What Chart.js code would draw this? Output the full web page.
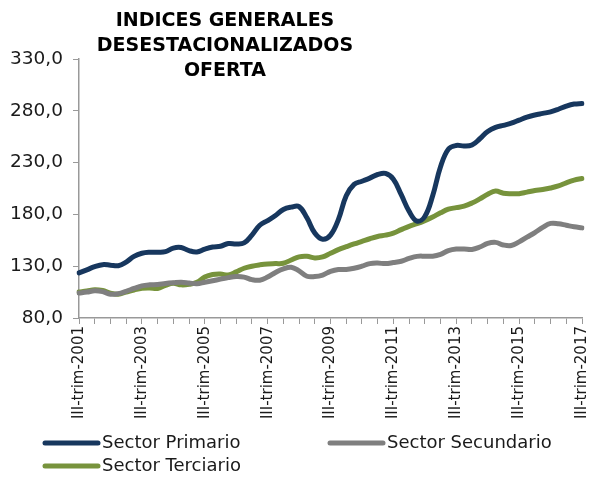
<!DOCTYPE html>
<html>
<head>
<meta charset="utf-8">
<script src="https://cdn.jsdelivr.net/npm/chart.js@4.4.0/dist/chart.umd.min.js"></script>
<style>
  html, body { margin: 0; padding: 0; background: #fff; overflow: hidden; }
  #wrap { width: 602px; height: 477px; position: relative; }
</style>
</head>
<body>
<div id="wrap"><canvas id="myChart"></canvas></div>
<script>
// Quarters from III-trim-2001 to III-trim-2017
const quarterNames = ['I', 'II', 'III', 'IV'];
const firstYear = 2001;
const firstQuarter = 2;   // index in quarterNames (III)
const nQuarters = 65;

const categories = [];
for (let i = 0; i < nQuarters; i++) {
    const q = (firstQuarter + i) % 4;
    const y = firstYear + Math.floor((firstQuarter + i) / 4);
    categories.push(quarterNames[q] + '-trim-' + y);
}

const seriesNames = ['Sector Primario', 'Sector Secundario', 'Sector Terciario'];

const primario = [
    123.5, 126.5, 129.5, 131.5, 131.0, 130.5, 134.0, 139.5, 142.5, 143.5,
    143.5, 144.0, 147.5, 148.0, 145.0, 143.8, 146.5, 148.5, 149.3, 151.9,
    151.5, 152.5, 160.0, 169.5, 174.0, 179.0, 184.8, 187.0, 187.5, 176.7,
    162.0, 156.0, 160.0, 175.0, 198.0, 209.0, 212.0, 215.0, 218.5, 219.5,
    214.0, 199.0, 183.0, 173.5, 178.0, 198.0, 226.0, 243.0, 246.5, 246.0,
    247.0, 253.0, 260.0, 264.0, 266.0, 268.0, 271.0, 274.0, 276.0, 277.5,
    279.0, 281.5, 284.5, 286.5, 287.0
];

const secundario = [
    104.2, 105.0, 106.3, 105.5, 103.0, 103.5, 105.8, 108.5, 111.0, 112.0,
    112.3, 113.3, 114.0, 114.5, 113.8, 113.0, 114.5, 116.0, 117.5, 119.0,
    120.0, 119.5, 117.0, 116.5, 119.5, 124.0, 127.5, 129.0, 125.5, 120.3,
    120.0, 121.5, 125.0, 126.8, 126.8, 128.0, 130.0, 132.5, 133.0, 132.5,
    133.5, 134.8, 137.5, 139.5, 139.7, 139.7, 141.5, 145.0, 146.5, 146.5,
    146.2, 148.5, 152.0, 153.0, 150.5, 150.0, 153.5, 158.0, 162.5, 167.5,
    171.3, 171.0, 169.5, 168.0, 167.0
];

const terciario = [
    105.0, 106.0, 107.3, 106.5, 104.0, 103.0, 105.0, 107.0, 108.7, 109.0,
    108.5, 111.5, 113.5, 112.0, 112.5, 114.5, 119.5, 122.0, 122.5, 121.5,
    124.5, 128.0, 130.0, 131.3, 132.2, 132.5, 132.8, 136.0, 139.0, 139.5,
    138.0, 139.0, 142.5, 146.0, 148.8, 151.5, 154.0, 156.5, 158.7, 160.0,
    162.0, 165.3, 168.5, 171.0, 174.0, 177.5, 181.5, 185.0, 186.5, 188.0,
    191.0, 195.0, 199.5, 202.5, 200.5, 200.0, 200.0, 201.5, 203.0, 204.0,
    205.5, 207.5, 210.5, 213.0, 214.7
];

const yMin = 80, yMax = 330, yStep = 50;
const titleLines = ['INDICES GENERALES', 'DESESTACIONALIZADOS', 'OFERTA'];

const colors = ['#17375e', '#7f7f7f', '#77933c'];
const FONT = '"DejaVu Sans", sans-serif';

// title drawn over the plot, left of centre like the original
const titlePlugin = {
    id: 'overTitle',
    afterDraw(chart) {
        const c = chart.ctx;
        c.save();
        c.font = 'bold 19px ' + FONT;
        c.fillStyle = '#000';
        c.textAlign = 'center';
        c.textBaseline = 'middle';
        titleLines.forEach((t, i) => c.fillText(t, 225, 21 + i * 25));
        c.restore();
    }
};

// legend: two columns, wraps to a second row
const legendPlugin = {
    id: 'sideLegend',
    afterDraw(chart) {
        const c = chart.ctx;
        const spots = [[45, 443], [330, 443], [45, 466]];
        c.save();
        c.font = '18px ' + FONT;
        c.textBaseline = 'middle';
        chart.data.datasets.forEach((ds, i) => {
            const [x, y] = spots[i];
            c.strokeStyle = ds.borderColor;
            c.lineWidth = 5;
            c.lineCap = 'round';
            c.beginPath();
            c.moveTo(x, y);
            c.lineTo(x + 53, y);
            c.stroke();
            c.fillStyle = '#1a1a1a';
            c.fillText(ds.label, x + 57, y);
        });
        c.restore();
    }
};

const ctx = document.getElementById('myChart').getContext('2d');
const myChart = new Chart(ctx, {
    type: 'line',
    data: {
        labels: categories,
        datasets: [primario, secundario, terciario].map((vals, i) => ({
            label: seriesNames[i],
            data: vals,
            borderColor: colors[i],
            backgroundColor: colors[i],
            borderWidth: 5,
            borderCapStyle: 'round',
            borderJoinStyle: 'round',
            pointRadius: 0,
            tension: 0.4,
            fill: false
        }))
    },
    options: {
        responsive: true,
        maintainAspectRatio: false,
        animation: false,
        layout: { padding: { top: 59, right: 7, bottom: 50, left: 0 } },
        plugins: {
            legend: { display: false },
            title: { display: false },
            tooltip: { enabled: false }
        },
        scales: {
            x: {
                offset: false,
                border: { color: '#999', width: 1.5 },
                grid: {
                    drawOnChartArea: false,
                    tickLength: 6,
                    tickColor: (c) => (c.index % 2 === 0 ? '#999' : 'rgba(0,0,0,0)')
                },
                ticks: {
                    autoSkip: false,
                    minRotation: 90,
                    maxRotation: 90,
                    padding: 2,
                    color: '#1a1a1a',
                    font: { family: FONT, size: 15 },
                    callback: function (v, i) { return i % 8 === 0 ? this.getLabelForValue(v) : ''; }
                },
                afterFit: (s) => { s.height = 109; }
            },
            y: {
                min: yMin,
                max: yMax,
                border: { color: '#999', width: 1.5 },
                grid: { drawOnChartArea: false, tickLength: 6, tickColor: '#999' },
                ticks: {
                    stepSize: yStep,
                    padding: 10,
                    color: '#1a1a1a',
                    font: { family: FONT, size: 18.5 },
                    callback: (v) => v.toFixed(1).replace('.', ',')
                },
                afterFit: (s) => { s.width = 79; }
            }
        }
    },
    plugins: [titlePlugin, legendPlugin]
});
</script>
</body>
</html>
